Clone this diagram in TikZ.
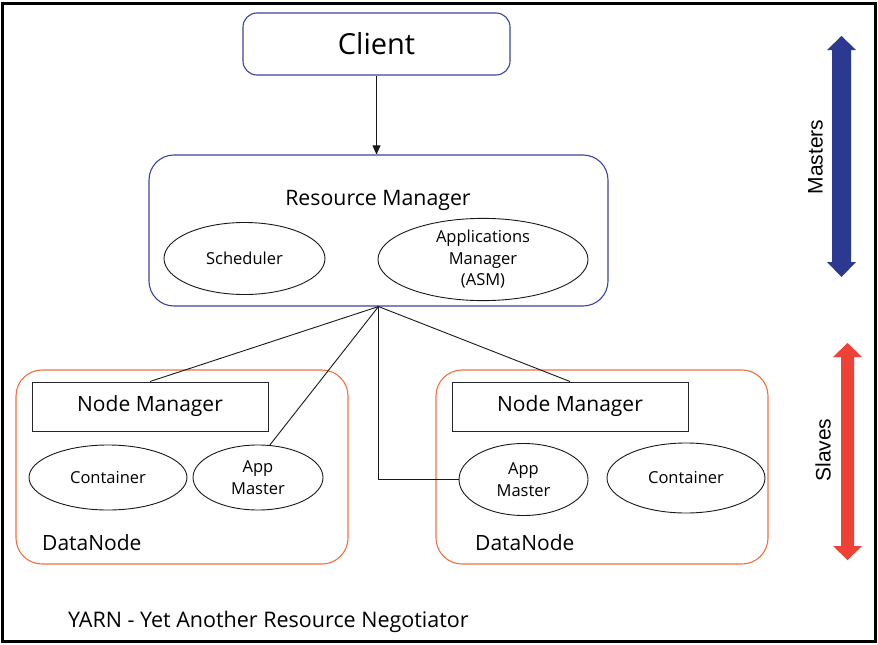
\documentclass[tikz,border=0pt]{standalone}
\usepackage{fontspec}
\setmainfont{Open Sans}
\newfontfamily\arialfont{Liberation Sans}
\usetikzlibrary{shapes.geometric,arrows.meta}
\definecolor{rmblue}{HTML}{3E4399}
\definecolor{dnorange}{HTML}{F2703F}
\definecolor{mblue}{HTML}{2B3990}
\definecolor{sred}{HTML}{EF4136}
\begin{document}
\begin{tikzpicture}[x=1pt,y=-1pt,
  bluebox/.style={draw=rmblue, line width=1.1pt, inner sep=0pt},
  dnbox/.style={draw=dnorange, line width=1.1pt, rounded corners=26pt, minimum width=332pt, minimum height=194pt, inner sep=0pt},
  nmbox/.style={draw=black!85, line width=1pt, minimum width=236pt, minimum height=49pt, inner sep=0pt, font=\fontsize{21}{25}\selectfont},
  ell/.style={draw=black!90, ellipse, line width=0.9pt, inner sep=0pt, align=center, font=\fontsize{16.5}{21.5}\selectfont},
  conn/.style={draw=black!90, line width=0.9pt},
  lbl/.style={font=\fontsize{21}{25}\selectfont, inner sep=0pt},
  side/.style={rotate=90, inner sep=0pt, font=\arialfont\fontsize{21}{25}\selectfont}
]
\useasboundingbox (0,0) rectangle (878,645);
\draw[line width=3pt] (2,3.5) rectangle (875.5,641.5);

% Client
\node[bluebox, rounded corners=14pt, minimum width=267pt, minimum height=62pt, font=\fontsize{29}{34}\selectfont] (client) at (376.5,44) {Client};

% Resource Manager
\node[bluebox, rounded corners=25pt, minimum width=459pt, minimum height=151pt] (rm) at (378.5,230.5) {};
\node[lbl, anchor=base, font=\fontsize{21.3}{25}\selectfont] (rmlabel) at (378,205) {Resource Manager};
\node[ell, minimum width=161pt, minimum height=72pt] (sched) at (244.5,258.5) {Scheduler};
\node[ell, minimum width=210pt, minimum height=74pt] (asm) at (483,259.5) {Applications\\Manager\\(ASM)};

\draw[conn, -{Triangle[length=9pt,width=8pt]}] (client.south) -- (client.south |- rm.north);

% Left DataNode
\node[dnbox] (ldn) at (182,467) {};
\node[nmbox] (lnm) at (150,406.5) {Node Manager};
\node[ell, minimum width=158pt, minimum height=65pt] (lcont) at (108,477.5) {Container};
\node[ell, minimum width=130pt, minimum height=65pt] (lam) at (258,477.5) {App\\Master};
\node[lbl, anchor=base west] (ldnlabel) at (42,550) {DataNode};

% Right DataNode
\node[dnbox] (rdn) at (602,467) {};
\node[nmbox] (rnm) at (570,406.5) {Node Manager};
\node[ell, minimum width=129pt, minimum height=72pt] (ram) at (523.5,479.5) {App\\Master};
\node[ell, minimum width=158pt, minimum height=70pt] (rcont) at (686,478) {Container};
\node[lbl, anchor=base west] (rdnlabel) at (475,550) {DataNode};

% Connectors
\draw[conn] (rm.south) -- (lnm.north);
\draw[conn] (rm.south) -- (lam.70);
\draw[conn] (rm.south) -- (rnm.north);
\draw[conn] (rm.south) |- (ram.west);

% Caption
\node[lbl, anchor=base west, font=\fontsize{21.5}{25}\selectfont] (caption) at (68,627) {YARN - Yet Another Resource Negotiator};

% Masters / Slaves arrows
\fill[mblue] (841.5,36) -- (856,50) -- (851,50) -- (851,262) -- (856,262) -- (841.5,277) -- (827,262) -- (832,262) -- (832,50) -- (827,50) -- cycle;
\node[side] (mlabel) at (815.5,157) {Masters};
\fill[sred] (847.5,343) -- (862,357) -- (854,357) -- (854,546) -- (862,546) -- (847.5,560) -- (833,546) -- (841,546) -- (841,357) -- (833,357) -- cycle;
\node[side] (slabel) at (823,450) {Slaves};
\end{tikzpicture}
\end{document}
